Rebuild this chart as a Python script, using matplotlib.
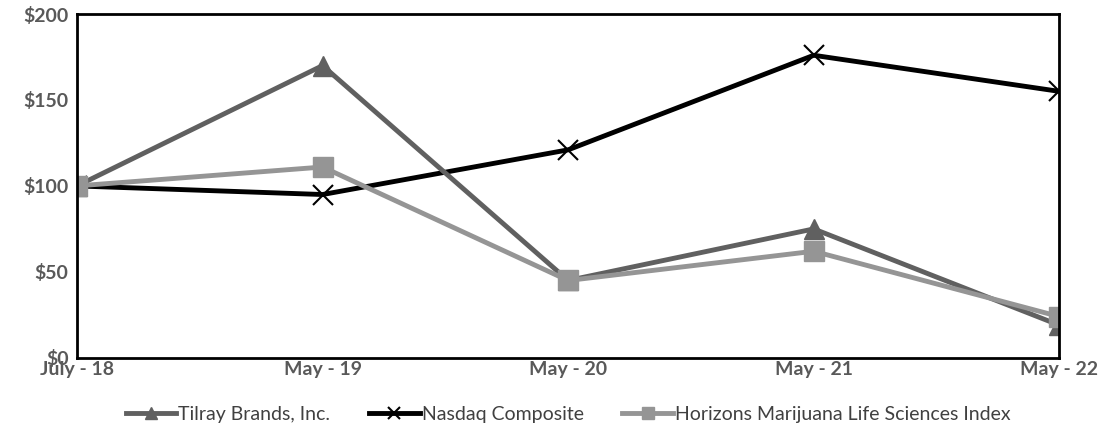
import matplotlib
matplotlib.use("Agg")
import matplotlib.pyplot as plt

# Cumulative total return, $100 invested
periods = ["July - 18", "May - 19", "May - 20", "May - 21", "May - 22"]
tilray = [100, 170, 45, 75, 19]
nasdaq = [100, 95, 121, 176, 155]
horizons = [100, 111, 45, 62, 24]
y_ticks = [0, 50, 100, 150, 200]

plt.rcParams['font.family'] = ['Lato', 'DejaVu Sans']

fig = plt.figure(figsize=(11, 4.38), dpi=100)
ax = fig.add_axes([0.07, 0.183, 0.893, 0.785])

x = list(range(len(periods)))
ax.plot(x, tilray, color='#606060', lw=3.5, marker='^', ms=15,
        label='Tilray Brands, Inc.', zorder=3)
ax.plot(x, nasdaq, color='#000000', lw=3.5, marker='x', ms=15, mew=1.5,
        label='Nasdaq Composite', zorder=2)
ax.plot(x, horizons, color='#959595', lw=3.5, marker='s', ms=15,
        label='Horizons Marijuana Life Sciences Index', zorder=4)

ax.set_xlim(0, len(periods) - 1)
ax.set_ylim(0, 200)
ax.set_xticks(x)
ax.set_xticklabels(periods)
ax.set_yticks(y_ticks)
ax.set_yticklabels([f"${v}" for v in y_ticks])
ax.tick_params(length=0, labelsize=14, labelcolor='#595959', pad=6)
ax.tick_params(axis='x', pad=2)
for lab in ax.get_xticklabels() + ax.get_yticklabels():
    lab.set_fontweight('bold')
for sp in ax.spines.values():
    sp.set_linewidth(2)
    sp.set_color('black')
    sp.set_zorder(5)

leg = ax.legend(loc='upper center', bbox_to_anchor=(0.5, -0.09), ncol=3,
                frameon=False, fontsize=14, handlelength=2.6, handletextpad=0.1,
                columnspacing=2.0, markerscale=0.6)
for t in leg.get_texts():
    t.set_color('#404040')

fig.savefig('out.png', dpi=100)
